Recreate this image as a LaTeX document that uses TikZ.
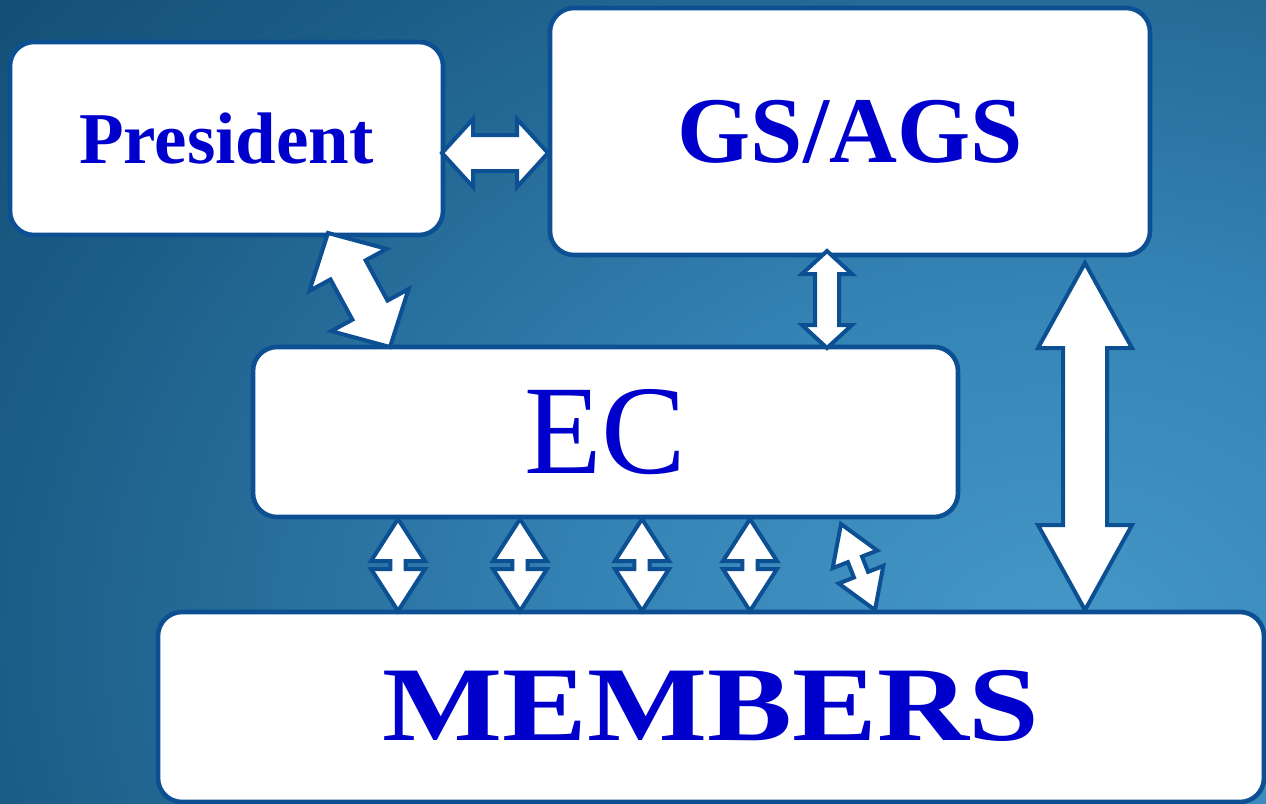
\documentclass[tikz,border=0pt]{standalone}
\usepackage{fontspec}
\setmainfont{Liberation Serif}
\usetikzlibrary{calc}
\definecolor{bord}{HTML}{0C5093}
\definecolor{txtblue}{HTML}{0000CC}
\definecolor{bgdark}{HTML}{134D72}
\definecolor{bgdeep}{HTML}{1B5C85}
\definecolor{bgmid}{HTML}{3584B6}
\definecolor{bglight}{HTML}{4598C8}
\pgfdeclareradialshading{bgshade}{\pgfpoint{0bp}{0bp}}{color(0bp)=(bglight); color(5.25bp)=(bgmid); color(12.5bp)=(bgdeep); color(16.25bp)=(bgdark); color(50bp)=(bgdark)}
\newcommand\blockarrow[5]{%
 \draw[blockarr] (#1)
  -- ($(#1)!#3!(#2)!#4!90:(#2)$)
  -- ($(#1)!#3!(#2)!#5!90:(#2)$)
  -- ($(#2)!#3!(#1)!#5!-90:(#1)$)
  -- ($(#2)!#3!(#1)!#4!-90:(#1)$)
  -- (#2)
  -- ($(#2)!#3!(#1)!#4!90:(#1)$)
  -- ($(#2)!#3!(#1)!#5!90:(#1)$)
  -- ($(#1)!#3!(#2)!#5!-90:(#2)$)
  -- ($(#1)!#3!(#2)!#4!-90:(#2)$)
  -- cycle;}
\begin{document}
\begin{tikzpicture}[x=0.5pt,y=-0.5pt,
  box/.style={draw=bord, line width=2.3pt, fill=white, rounded corners=12pt, inner sep=0pt, text=txtblue},
  blockarr/.style={draw=bord, fill=white, line width=2pt, line join=miter}]
\useasboundingbox (0,0) rectangle (1266,804);
\begin{scope}
\clip (0,0) rectangle (1266,804);
\shade[shading=bgshade] (1060,640) ellipse (2160 and 1660);
% boxes
\node[box, minimum width=216.5pt, minimum height=96.5pt] (pres) at (226.5,138.5)
  {\fontsize{36.5}{40}\selectfont\bfseries President};
\node[box, minimum width=300pt, minimum height=123.5pt] (gs) at (850,131.5)
  {\raisebox{-1pt}{\fontsize{47}{50}\selectfont\bfseries GS/AGS}};
\node[box, minimum width=352.5pt, minimum height=85pt] (ec) at (605.5,432)
  {\raisebox{-1pt}{\fontsize{63.5}{66}\selectfont EC}};
\node[box, minimum width=553pt, minimum height=95pt] (mem) at (711,707)
  {\raisebox{1.5pt}{\scalebox{1.2}[1]{\fontsize{53}{56}\selectfont\bfseries MEMBERS}}};
% arrow tips
\coordinate (pg1) at (442,153);
\coordinate (pg2) at (548,153);
\coordinate (pe1) at (328,233);
\coordinate (pe2) at (390,347);
\coordinate (ge1) at (827,251);
\coordinate (ge2) at (827,348);
\coordinate (gm1) at (1085,263);
\coordinate (gm2) at (1085,610);
\coordinate (b1t) at (398,519);
\coordinate (b1b) at (398,611);
\coordinate (b2t) at (520,519);
\coordinate (b2b) at (520,611);
\coordinate (b3t) at (642,519);
\coordinate (b3b) at (642,611);
\coordinate (b4t) at (750,519);
\coordinate (b4b) at (750,611);
\coordinate (b5t) at (841,524);
\coordinate (b5b) at (875,610);
% arrows
\blockarrow{pg1}{pg2}{15.5pt}{17pt}{9pt}
\blockarrow{pe1}{pe2}{21pt}{22pt}{10pt}
\blockarrow{ge1}{ge2}{11.5pt}{12.5pt}{6pt}
\blockarrow{gm1}{gm2}{42.5pt}{23.5pt}{11pt}
\blockarrow{b1t}{b1b}{21pt}{13.5pt}{3.8pt}
\blockarrow{b2t}{b2b}{21pt}{13.5pt}{3.8pt}
\blockarrow{b3t}{b3b}{21pt}{13.5pt}{3.8pt}
\blockarrow{b4t}{b4b}{21pt}{13.5pt}{3.8pt}
\blockarrow{b5t}{b5b}{19pt}{12pt}{3.8pt}
\end{scope}
\end{tikzpicture}
\end{document}
